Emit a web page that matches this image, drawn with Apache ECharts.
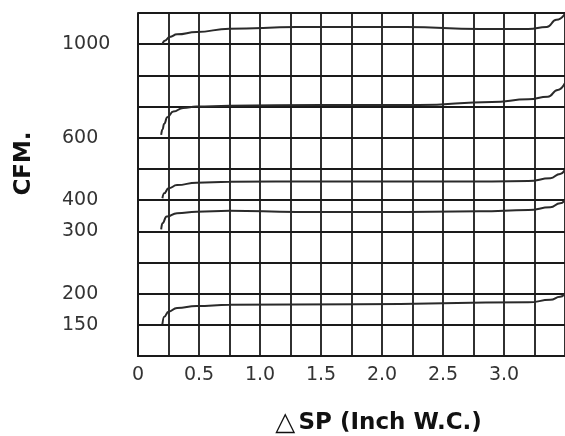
<!DOCTYPE html>
<html>
<head>
<meta charset="utf-8">
<script src="https://cdn.jsdelivr.net/npm/echarts@6/dist/echarts.min.js"></script>
<style>
	html, body { margin: 0; padding: 0; background: #fff; }
	#main { width: 565px; height: 436px; }
</style>
</head>
<body>
<div id="main"></div>
<script>
	// y tick labels sit on some of the 11 grid rows (the scale is not linear)
	var yTickValues = [150, 200, 300, 400, 600, 1000];
	var yTickRows = [1, 2, 4, 5, 7, 10];
	var xTickValues = [0, 0.5, 1, 1.5, 2, 2.5, 3];
	var xTickLabels = ['0', '0.5', '1.0', '1.5', '2.0', '2.5', '3.0'];

	// fan curves: SP (inch W.C.) vs CFM
	var sp1000 = [0.2, 0.22, 0.26, 0.32, 0.48, 0.75, 1.3, 2.2, 2.8, 3.2, 3.35, 3.43, 3.5];
	var cfm1000 = [1000, 1015, 1031, 1042, 1052, 1066, 1073, 1073, 1065, 1065, 1073, 1104, 1130];
	var sp600 = [0.19, 0.2, 0.215, 0.24, 0.29, 0.37, 0.48, 0.75, 1.5, 2.3, 2.9, 3.2, 3.36, 3.44, 3.5];
	var cfm600 = [612, 635, 660, 688, 712, 727, 733, 737, 740, 740, 753, 764, 775, 804, 834];
	var sp400 = [0.2, 0.215, 0.25, 0.32, 0.48, 0.75, 1.5, 2.3, 2.9, 3.2, 3.38, 3.46, 3.5];
	var cfm400 = [406, 422, 438, 448, 456, 459, 460, 460, 460, 461, 470, 484, 497];
	var sp300 = [0.19, 0.2, 0.235, 0.32, 0.48, 0.75, 1.3, 2.0, 2.8, 3.2, 3.38, 3.46, 3.5];
	var cfm300 = [306, 326, 347, 358, 363, 366, 362, 362, 364, 368, 377, 390, 400];
	var sp150 = [0.2, 0.215, 0.25, 0.32, 0.48, 0.75, 1.8, 3.2, 3.38, 3.46, 3.5];
	var cfm150 = [151, 163, 171, 177, 180, 182, 183, 186, 190, 195, 200];

	// CFM -> grid row, piecewise linear between labelled rows
	function toRow(v) {
		var n = yTickValues.length, i = 0;
		while (i < n - 2 && v > yTickValues[i + 1]) i++;
		var a = yTickValues[i], b = yTickValues[i + 1];
		return yTickRows[i] + (v - a) / (b - a) * (yTickRows[i + 1] - yTickRows[i]);
	}

	function pairs(xs, ys) {
		var out = [];
		for (var i = 0; i < xs.length; i++) out.push([xs[i], toRow(ys[i])]);
		return out;
	}

	function curve(name, xs, ys) {
		return {
			name: name,
			type: 'line',
			data: pairs(xs, ys),
			showSymbol: false,
			smooth: 0.5,
			smoothMonotone: 'x',
			lineStyle: { color: '#2a2a2a', width: 2 },
			z: 5
		};
	}

	var yLabels = [];
	for (var r = 0; r <= 11; r++) yLabels.push('');
	for (var k = 0; k < yTickValues.length; k++) yLabels[yTickRows[k]] = String(yTickValues[k]);

	var myChart = echarts.init(document.getElementById('main'));
	var option = {
		animation: false,
		grid: { left: 138, top: 13, right: 0, bottom: 80, containLabel: false, outerBoundsMode: 'none' },
		xAxis: {
			type: 'value',
			min: 0,
			max: 3.5,
			interval: 0.25,
			name: '{tri|△} {b|SP (Inch W.C.)}',
			nameLocation: 'middle',
			nameGap: 54,
			nameTextStyle: {
				padding: [0, 0, 0, 54],
				rich: {
					tri: { fontFamily: 'DejaVu Sans', fontSize: 26, color: '#111' },
					b: { fontFamily: 'DejaVu Sans', fontWeight: 'bold', fontSize: 23, color: '#111' }
				}
			},
			axisLine: { show: true, lineStyle: { color: '#1a1a1a', width: 2 } },
			axisTick: { show: false },
			axisLabel: {
				margin: 10,
				color: '#333',
				fontFamily: 'DejaVu Sans',
				fontSize: 19,
				formatter: function (v) {
					var i = xTickValues.indexOf(v);
					return i < 0 ? '' : xTickLabels[i];
				}
			},
			splitLine: { show: true, lineStyle: { color: '#1a1a1a', width: 1.8 } }
		},
		yAxis: {
			type: 'value',
			min: 0,
			max: 11,
			interval: 1,
			name: 'CFM.',
			nameLocation: 'middle',
			nameRotate: 90,
			nameGap: 102,
			nameTextStyle: {
				fontFamily: 'DejaVu Sans',
				fontWeight: 'bold',
				fontSize: 23,
				color: '#111',
				padding: [0, 0, 0, 42]
			},
			axisLine: { show: true, lineStyle: { color: '#1a1a1a', width: 2 } },
			axisTick: { show: false },
			axisLabel: {
				margin: 76,
				align: 'left',
				color: '#333',
				fontFamily: 'DejaVu Sans',
				fontSize: 19,
				formatter: function (v) { return yLabels[v] || ''; }
			},
			splitLine: { show: true, lineStyle: { color: '#1a1a1a', width: 1.8 } }
		},
		series: [
			curve('1000', sp1000, cfm1000),
			curve('600', sp600, cfm600),
			curve('400', sp400, cfm400),
			curve('300', sp300, cfm300),
			curve('150', sp150, cfm150)
		]
	};
	myChart.setOption(option);
</script>
</body>
</html>
